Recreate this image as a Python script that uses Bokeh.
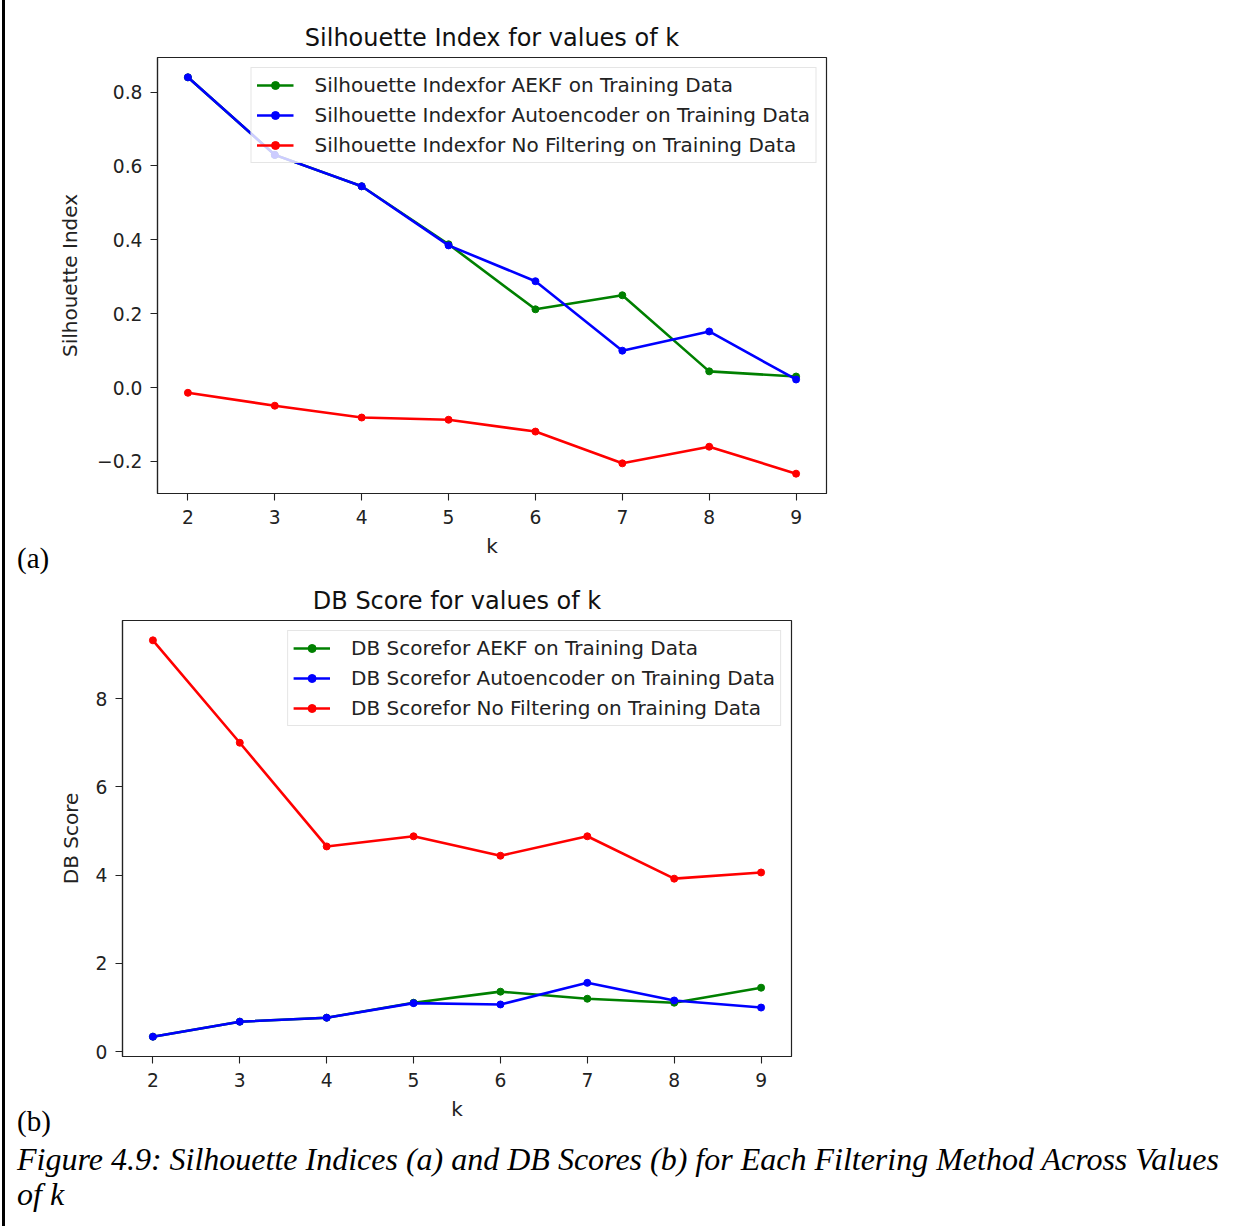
from bokeh.plotting import figure
from bokeh.models import Range1d, FixedTicker, CustomJSTickFormatter, Div, Legend
from bokeh.layouts import column, row
from bokeh.embed import file_html
from bokeh.resources import INLINE

# ---------------- data ----------------
k_values = [2, 3, 4, 5, 6, 7, 8, 9]

sil_aekf = [0.84, 0.63, 0.545, 0.388, 0.212, 0.25, 0.044, 0.03]
sil_autoenc = [0.84, 0.63, 0.545, 0.385, 0.288, 0.10, 0.152, 0.022]
sil_nofilter = [-0.014, -0.049, -0.081, -0.087, -0.119, -0.205, -0.16, -0.233]

db_aekf = [0.34, 0.68, 0.77, 1.11, 1.36, 1.20, 1.11, 1.45]
db_autoenc = [0.34, 0.68, 0.77, 1.10, 1.07, 1.56, 1.16, 1.00]
db_nofilter = [9.32, 7.00, 4.65, 4.88, 4.44, 4.88, 3.92, 4.06]

series_names = ["AEKF", "Autoencoder", "No Filtering"]
series_colors = ["#008000", "#0000ff", "#ff0000"]

sil_ticks = [-0.2, 0.0, 0.2, 0.4, 0.6, 0.8]
db_ticks = [0, 2, 4, 6, 8]

title_a = "Silhouette Index for values of k"
title_b = "DB Score for values of k"
ylabel_a = "Silhouette Index"
ylabel_b = "DB Score"
xlabel = "k"
caption = "Figure 4.9: Silhouette Indices (a) and DB Scores (b) for Each Filtering Method Across Values<br>of k"

FONT = "DejaVu Sans"
TICK_PX = "18.7px"
LABEL_PX = "20px"


def padded(vals, frac=0.05):
    lo, hi = min(vals), max(vals)
    span = hi - lo
    return lo - frac * span, hi + frac * span


def make_fig(title, ylabel, series, prefix, ticks, decimals, left_border, top_border, bottom_border, label_standoff):
    allv = [v for s in series for v in s]
    ylo, yhi = padded(allv)
    xlo, xhi = padded(k_values)
    p = figure(frame_width=669, frame_height=436,
               min_border_left=left_border, min_border_right=14,
               min_border_top=top_border, min_border_bottom=bottom_border,
               x_range=Range1d(xlo, xhi), y_range=Range1d(ylo, yhi),
               output_backend="svg", toolbar_location=None, title=title)
    p.title.text_font = FONT
    p.title.text_font_size = "24px"
    p.title.text_font_style = "normal"
    p.title.align = "center"
    p.title.text_color = "#111111"
    p.title.standoff = 11
    p.grid.visible = False
    p.outline_line_color = "#222222"
    p.outline_line_width = 1.2
    p.background_fill_color = "white"
    p.border_fill_color = "white"

    for ax in (p.xaxis[0], p.yaxis[0]):
        ax.axis_line_color = "#222222"
        ax.axis_line_width = 1.2
        ax.major_tick_line_color = "#222222"
        ax.major_tick_line_width = 1.1
        ax.major_tick_out = 7
        ax.major_tick_in = 0
        ax.minor_tick_line_color = None
        ax.major_label_text_font = FONT
        ax.major_label_text_font_size = TICK_PX
        ax.major_label_text_color = "#222222"
        ax.axis_label_text_font = FONT
        ax.axis_label_text_font_size = LABEL_PX
        ax.axis_label_text_font_style = "normal"
        ax.axis_label_text_color = "#222222"

    p.xaxis.ticker = FixedTicker(ticks=k_values)
    p.xaxis.major_label_standoff = 9
    p.xaxis.axis_label = xlabel
    p.xaxis.axis_label_standoff = 7

    p.yaxis.ticker = FixedTicker(ticks=ticks)
    p.yaxis.major_label_standoff = 8
    p.yaxis.axis_label = ylabel
    p.yaxis.axis_label_standoff = label_standoff
    p.yaxis.formatter = CustomJSTickFormatter(code="""
        var t = tick;
        if (Math.abs(t) < 1e-9) { t = 0; }
        return t.toFixed(%d).replace('-', '\\u2212');
    """ % decimals)

    items = []
    for vals, name, col in zip(series, series_names, series_colors):
        label = prefix + "for " + name + " on Training Data"
        r1 = p.line(k_values, vals, line_color=col, line_width=2.6)
        r2 = p.scatter(k_values, vals, size=7, fill_color=col, line_color=col)
        items.append((label, [r1, r2]))

    legend = Legend(items=items, location="top_right")
    legend.label_text_font = FONT
    legend.label_text_font_size = LABEL_PX
    legend.label_text_color = "#222222"
    legend.glyph_width = 37
    legend.glyph_height = 20
    legend.label_height = 20
    legend.spacing = 6
    legend.padding = 5
    legend.margin = 10
    legend.label_standoff = 21
    legend.border_line_color = "#cccccc"
    legend.border_line_width = 1
    legend.background_fill_color = "white"
    legend.background_fill_alpha = 0.8
    p.add_layout(legend, "center")
    return p


fig_a = make_fig(title_a, ylabel_a, [sil_aekf, sil_autoenc, sil_nofilter], "Silhouette Index",
                 sil_ticks, 1, 152, 57, 62, 12)
fig_b = make_fig(title_b, ylabel_b, [db_aekf, db_autoenc, db_nofilter], "DB Score",
                 db_ticks, 0, 117, 45, 61, 10)

serif = {"font-family": "'Liberation Serif', 'Times New Roman', serif",
         "color": "black", "white-space": "nowrap"}

div_a = Div(text="(a)", width=200, height=34, margin=(-19, 0, 0, 12),
            styles=dict(serif, **{"line-height": "34px", "font-size": "29px"}))
div_b = Div(text="(b)", width=200, height=35, margin=(-19, 0, 0, 12),
            styles=dict(serif, **{"line-height": "35px", "font-size": "29px"}))
div_cap = Div(text=caption, width=1230, height=75, margin=(3, 0, 0, 12),
              styles=dict(serif, **{"line-height": "35px", "font-style": "italic",
                                    "font-size": "32px"}))

left_bar = Div(text="", width=3, height=1226, margin=(0, 0, 0, 2),
               styles={"background-color": "black"})

content = column(row(fig_a), div_a, row(fig_b), div_b, div_cap, spacing=0)
layout = row(left_bar, content, spacing=0)

open("out.html", "w").write(file_html(layout, INLINE))
